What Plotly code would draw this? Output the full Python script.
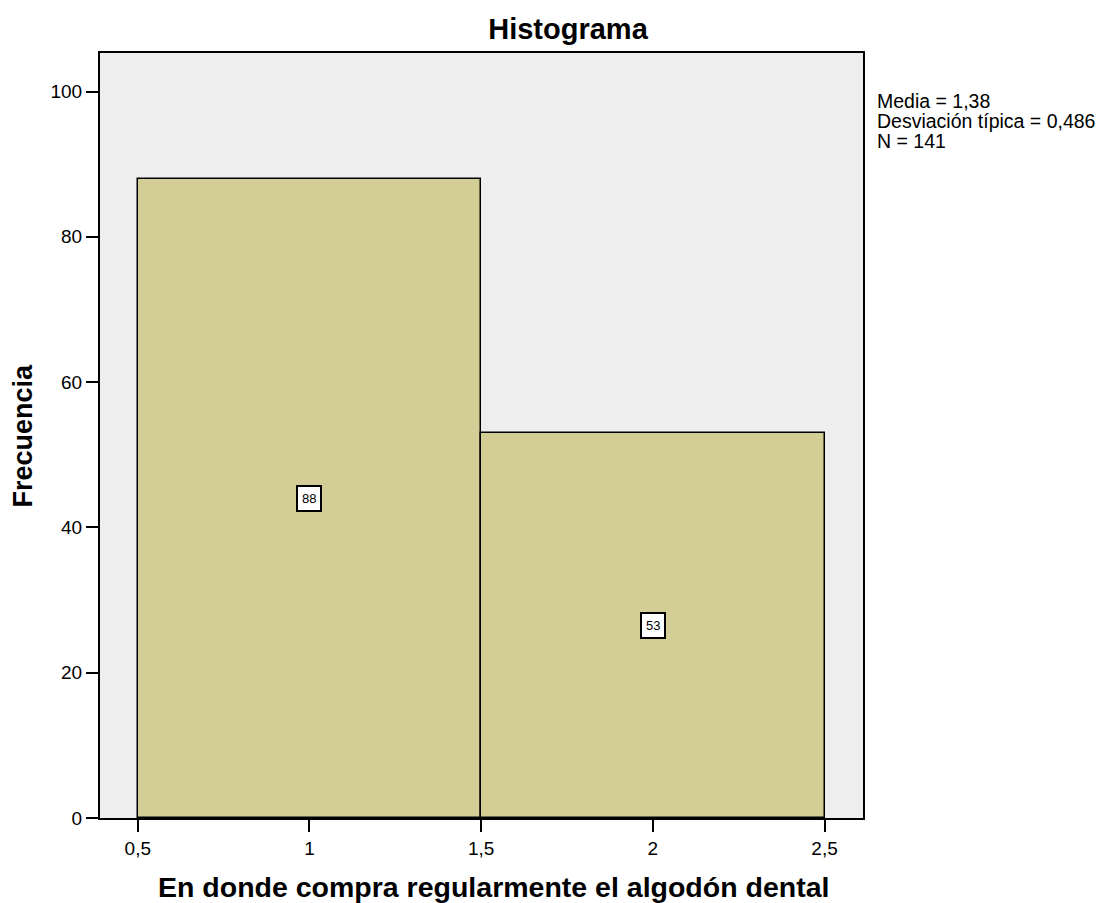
import plotly.graph_objects as go

# Histogram data
bin_centers = [1, 2]
frequencies = [88, 53]
x_tickvals = [0.5, 1, 1.5, 2, 2.5]
x_ticktext = ["0,5", "1", "1,5", "2", "2,5"]
y_tickvals = [0, 20, 40, 60, 80, 100]
stats_lines = ["Media = 1,38", "Desviación típica = 0,486", "N = 141"]

FONT = "Liberation Sans, Arial, sans-serif"
PLOT_L, PLOT_R, PLOT_T, PLOT_B = 100, 863, 53, 818
PW, PH = PLOT_R - PLOT_L, PLOT_B - PLOT_T


def px_x(x):
    return (x - PLOT_L) / PW


def px_y(y):
    return (PLOT_B - y) / PH


fig = go.Figure()
fig.add_trace(go.Bar(
    x=bin_centers,
    y=frequencies,
    width=1,
    marker=dict(color="#D3CD96", line=dict(color="black", width=1.5)),
    hoverinfo="x+y",
))

# Value labels in boxes at mid-height of each bar
for xc, f in zip(bin_centers, frequencies):
    fig.add_annotation(
        x=xc, y=f / 2, text=str(f), showarrow=False,
        font=dict(family=FONT, size=13, color="black"),
        bgcolor="white", bordercolor="black", borderwidth=2, borderpad=4,
    )

# Summary statistics at the right, one line each
for i, line in enumerate(stats_lines):
    fig.add_annotation(
        xref="paper", yref="paper", x=px_x(875), y=px_y(101 + 20 * i),
        xanchor="left", yanchor="middle", align="left", showarrow=False,
        text=line,
        font=dict(family=FONT, size=19.5, color="black"),
    )

# Axis titles
fig.add_annotation(
    xref="paper", yref="paper", x=px_x(493), y=px_y(887),
    xanchor="center", yanchor="middle", showarrow=False,
    text="<b>En donde compra regularmente el algodón dental</b>",
    font=dict(family=FONT, size=28.5, color="black"),
)
fig.add_annotation(
    xref="paper", yref="paper", x=px_x(22), y=0.5,
    xanchor="center", yanchor="middle", showarrow=False, textangle=-90,
    text="<b>Frecuencia</b>",
    font=dict(family=FONT, size=27, color="black"),
)

fig.update_layout(
    width=1106, height=903,
    margin=dict(l=PLOT_L, r=1106 - PLOT_R, t=PLOT_T, b=903 - PLOT_B),
    paper_bgcolor="white",
    plot_bgcolor="#EEEEEE",
    showlegend=False,
    bargap=0,
    title=dict(
        text="<b>Histograma</b>",
        font=dict(family=FONT, size=29, color="black"),
        xref="paper", x=px_x(568), xanchor="center",
        yref="container", y=1 - 29 / 903, yanchor="middle",
    ),
    xaxis=dict(
        range=[0.39, 2.612],
        tickvals=x_tickvals, ticktext=x_ticktext,
        ticks="outside", ticklen=12, tickwidth=2, tickcolor="black",
        tickfont=dict(family=FONT, size=19, color="black"),
        showgrid=False, zeroline=False,
        showline=True, linecolor="black", linewidth=2, mirror=True,
    ),
    yaxis=dict(
        range=[0, 105.3],
        tickvals=y_tickvals,
        ticks="outside", ticklen=12, tickwidth=2, tickcolor="black",
        tickfont=dict(family=FONT, size=19, color="black"),
        showgrid=False, zeroline=False,
        showline=True, linecolor="black", linewidth=2, mirror=True,
    ),
)

fig.write_html("out.html")
